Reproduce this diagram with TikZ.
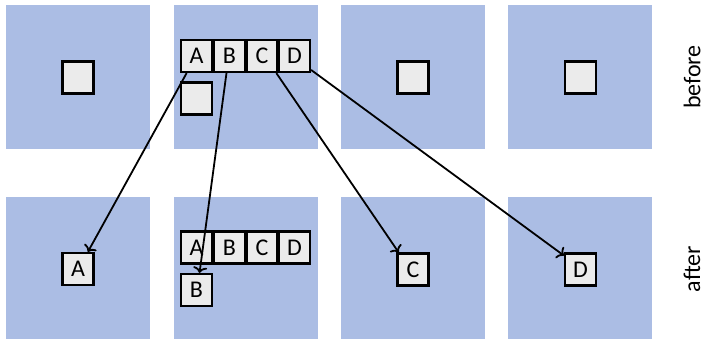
\documentclass[tikz,border=0pt]{standalone}
\usepackage{fontspec}
\setmainfont{Carlito}
\usepackage{xcolor}
\usepackage{tikz}
\usetikzlibrary{arrows.meta,positioning}
\definecolor{panelblue}{RGB}{171,189,228}
\definecolor{cellgray}{RGB}{235,235,235}
\tikzset{
  panel/.style={rectangle,fill=panelblue,minimum width=144pt,minimum height=144pt,inner sep=0pt},
  cell/.style={rectangle,draw,line width=2.2pt,fill=cellgray,minimum width=31pt,minimum height=32pt,inner sep=0pt,font=\fontsize{24}{28}\selectfont},
  move/.style={line width=1.8pt,-{To[length=6pt,width=14pt]}},
  rowlab/.style={rotate=90,font=\fontsize{24}{28}\selectfont}
}

\begin{document}
\begin{tikzpicture}[x=1pt,y=-1pt]
  \useasboundingbox (0,0) rectangle (706,339);
  % four panels per row
  \foreach \i/\x in {1/78,2/246,3/413,4/580}{
    \node[panel] (p\i) at (\x,77) {};
    \node[panel] (q\i) at (\x,269) {};
  }
  % before
  \node[cell] (e1) at (78,77.5) {};
  \node[cell] (ta) at (196.5,56) {A};
  \node[cell] (tb) at (229.5,56) {B};
  \node[cell] (tc) at (262,56) {C};
  \node[cell] (td) at (294.5,56) {D};
  \node[cell] (e2) at (196.5,98.5) {};
  \node[cell] (e3) at (413,77.5) {};
  \node[cell] (e4) at (580.5,77.5) {};
  % after
  \node[cell] (ba) at (78,269) {A};
  \node[cell] (ra) at (196.5,247.5) {A};
  \node[cell] (rb) at (229.5,247.5) {B};
  \node[cell] (rc) at (262,247.5) {C};
  \node[cell] (rd) at (294.5,247.5) {D};
  \node[cell] (bb) at (196.5,290) {B};
  \node[cell] (bc) at (413,269.5) {C};
  \node[cell] (bd) at (580.5,269.5) {D};
  \node[rowlab] (lb) at (692,77) {before};
  \node[rowlab] (la) at (692,269) {after};
  % moves
  \draw[move] (ta.-120) -- (ba.60);
  \draw[move] (tb.-100) -- (bb.80);
  \draw[move] (tc.-50) -- (bc.130);
  \draw[move] (td.-40) -- (bd.140);
\end{tikzpicture}
\end{document}
